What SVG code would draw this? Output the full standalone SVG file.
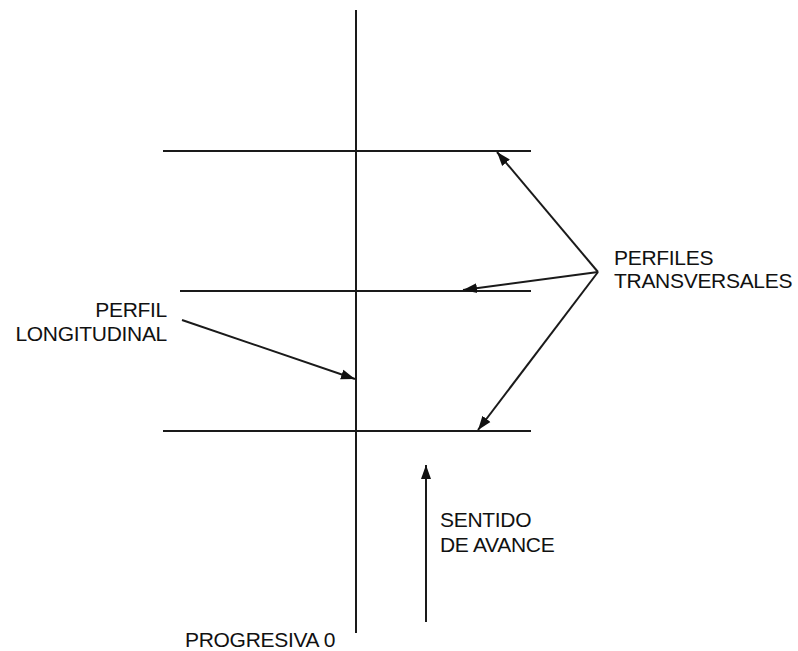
<svg xmlns="http://www.w3.org/2000/svg" width="798" height="651" viewBox="0 0 798 651">
<style>
.ln{stroke:#1a1a1a;stroke-width:2;fill:none}
.ar{stroke:#1a1a1a;stroke-width:2;fill:none;marker-end:url(#ah)}
.t{font-family:"Liberation Sans",Arial,sans-serif;font-size:21px;fill:#111;letter-spacing:-0.3px}
</style>
<defs>
<marker id="ah" markerUnits="userSpaceOnUse" markerWidth="16" markerHeight="12" refX="14" refY="6" orient="auto">
<path d="M0,1 L14,6 L0,11 Z" fill="#111"/>
</marker>
</defs>
<rect width="798" height="651" fill="#fff"/>
<g id="axis">
<line class="ln" x1="356" y1="10" x2="356" y2="633"/>
</g>
<g id="perfil-1"><line class="ln" x1="163" y1="151" x2="531" y2="151"/></g>
<g id="perfil-2"><line class="ln" x1="180" y1="291" x2="531" y2="291"/></g>
<g id="perfil-3"><line class="ln" x1="163" y1="431" x2="531" y2="431"/></g>
<g id="connectors">
<line class="ar" x1="598" y1="272" x2="497" y2="152"/>
<line class="ar" x1="598" y1="272" x2="463" y2="290"/>
<line class="ar" x1="598" y1="272" x2="478" y2="430"/>
<line class="ar" x1="182" y1="320" x2="355" y2="379"/>
<line class="ar" x1="426" y1="622" x2="426" y2="465"/>
</g>
<g id="label-transversales">
<text class="t" x="614" y="265">PERFILES</text>
<text class="t" x="614" y="288">TRANSVERSALES</text>
</g>
<g id="label-longitudinal">
<text class="t" x="167" y="317" text-anchor="end">PERFIL</text>
<text class="t" x="167" y="341" text-anchor="end">LONGITUDINAL</text>
</g>
<g id="label-sentido">
<text class="t" x="440" y="527">SENTIDO</text>
<text class="t" x="440" y="552">DE AVANCE</text>
</g>
<g id="label-progresiva">
<text class="t" x="185" y="647">PROGRESIVA 0</text>
</g>
</svg>
